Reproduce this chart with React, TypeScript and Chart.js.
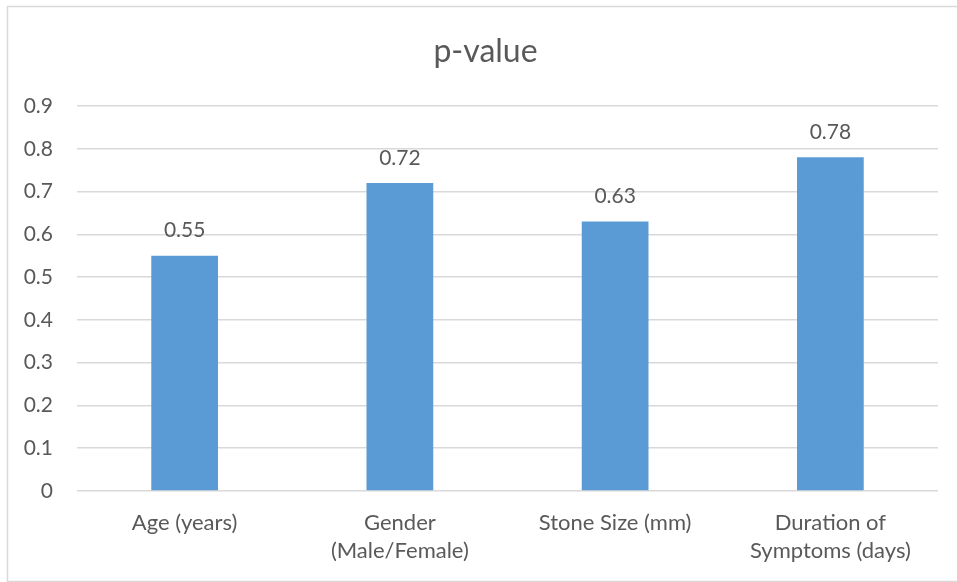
import React, { useEffect, useRef } from "react";
import { Chart, registerables } from "chart.js";

Chart.register(...registerables);

const categories: string[][] = [
  ["Age (years)"],
  ["Gender", "(Male/Female)"],
  ["Stone Size (mm)"],
  ["Duration of", "Symptoms (days)"],
];
const pValues: number[] = [0.55, 0.72, 0.63, 0.78];
const yMin = 0;
const yMax = 0.9;
const yStep = 0.1;
const chartTitle = "p-value";

const TEXT = "#595959";
const GRID = "#d9d9d9";
const BAR = "#5B9BD5";
const FONT = "Lato, 'Open Sans', sans-serif";

const W = 957;
const H = 582;

const framePlugin = {
  id: "frame",
  beforeDraw(chart: any) {
    const ctx = chart.ctx;
    ctx.save();
    ctx.fillStyle = "#ffffff";
    ctx.fillRect(0, 0, chart.width, chart.height);
    ctx.strokeStyle = GRID;
    ctx.lineWidth = 1.5;
    ctx.strokeRect(7.5, 6.5, chart.width + 10, 575);
    ctx.restore();
  },
};

// Title drawn centred on the full (wider, cropped) chart frame
const titlePlugin = {
  id: "frameTitle",
  afterDraw(chart: any) {
    const ctx = chart.ctx;
    ctx.save();
    ctx.font = `32px ${FONT}`;
    ctx.fillStyle = TEXT;
    ctx.textAlign = "center";
    ctx.textBaseline = "alphabetic";
    ctx.fillText(chartTitle, 485.5, 62);
    ctx.restore();
  },
};

const labelPlugin = {
  id: "barLabels",
  afterDatasetsDraw(chart: any) {
    const ctx = chart.ctx;
    const meta = chart.getDatasetMeta(0);
    const data = chart.data.datasets[0].data as number[];
    ctx.save();
    ctx.font = `21px ${FONT}`;
    ctx.fillStyle = TEXT;
    ctx.textAlign = "center";
    ctx.textBaseline = "alphabetic";
    meta.data.forEach((el: any, i: number) => {
      ctx.fillText(String(data[i]), el.x, el.y - 18.5);
    });
    ctx.restore();
  },
};

export default function App() {
  const ref = useRef<HTMLCanvasElement | null>(null);

  useEffect(() => {
    if (!ref.current) return;
    const chart = new Chart(ref.current, {
      type: "bar",
      data: {
        labels: categories,
        datasets: [
          {
            label: chartTitle,
            data: pValues,
            backgroundColor: BAR,
            borderWidth: 0,
            barPercentage: 1,
            categoryPercentage: 0.31,
          },
        ],
      },
      options: {
        responsive: false,
        animation: false,
        devicePixelRatio: 1,
        layout: { padding: { left: 0, right: 19, top: 106, bottom: 0 } },
        plugins: {
          legend: { display: false },
          tooltip: { enabled: false },
          title: { display: false },
        },
        scales: {
          x: {
            grid: { display: false, drawTicks: false },
            border: { display: false },
            ticks: {
              color: TEXT,
              font: { family: FONT, size: 22, lineHeight: 1.28 },
              padding: 18,
              maxRotation: 0,
              autoSkip: false,
            },
            afterFit(scale: any) {
              scale.height = 91;
            },
          },
          y: {
            min: yMin,
            max: yMax,
            grid: { color: GRID, lineWidth: 1.5, drawTicks: false },
            border: { display: false },
            ticks: {
              stepSize: yStep,
              color: TEXT,
              font: { family: FONT, size: 21 },
              padding: 24,
              callback: (v: any) => (Number(v) === 0 ? "0" : Number(v).toFixed(1)),
            },
            afterFit(scale: any) {
              scale.width = 77;
            },
          },
        },
      },
      plugins: [framePlugin, labelPlugin, titlePlugin],
    });
    return () => chart.destroy();
  }, []);

  return (
    <div style={{ position: "absolute", left: 0, top: 0, width: W, height: H }}>
      <canvas ref={ref} width={W} height={H} style={{ display: "block" }} />
    </div>
  );
}
